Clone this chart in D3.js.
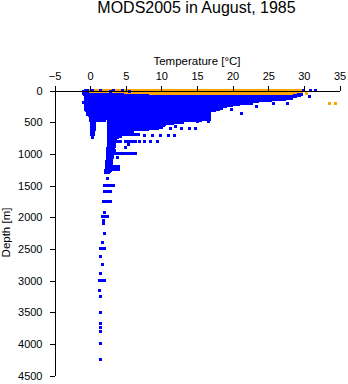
<!DOCTYPE html>
<html>
<head>
<meta charset="utf-8">
<script src="https://cdn.jsdelivr.net/npm/d3@7"></script>
<style>
  html, body { margin: 0; padding: 0; background: #fff; }
  svg { display: block; }
  text { font-family: "Liberation Sans", Arial, Helvetica, sans-serif; fill: #000; }
</style>
</head>
<body>
<svg id="chart" width="348" height="384"></svg>
<script>
// ---- data ----
const title = "MODS2005 in August, 1985";
const xLabel = "Temperature [°C]";
const yLabel = "Depth [m]";
const xTicks = [-5, 0, 5, 10, 15, 20, 25, 30, 35];
const yTicks = [0, 500, 1000, 1500, 2000, 2500, 3000, 3500, 4000, 4500];

// blue observations grouped by depth: [depth m, Tmin, Tmax]
const blueRows = [
  [0, -0.7, 29.7], [10, -0.8, 29.7], [20, -0.9, 29.7], [40, -1.0, 29.7], [60, -0.8, 29.6],
  [80, -0.6, 29.4], [100, -0.6, 28.8], [120, -0.6, 28.2], [140, -0.6, 27.3], [160, -0.6, 25.3],
  [180, -0.6, 23.5], [200, -0.6, 22.6], [220, -0.6, 20.8], [240, -0.6, 19.8], [260, -0.6, 19.0],
  [280, -0.6, 18.5], [300, -0.6, 18.0], [320, -0.5, 17.5], [340, -0.3, 16.8], [360, -0.3, 16.8],
  [380, -0.3, 16.8], [400, -0.1, 16.8], [420, 0.0, 16.8], [440, 0.0, 16.8],
  [460, 0.1, 0.7], [460, 2.6, 16.8], [480, 0.1, 0.7], [480, 1.2, 2.0], [480, 2.6, 15.5],
  [500, 0.15, 0.65], [500, 2.6, 13.0], [520, 0.15, 0.65], [520, 2.6, 11.5],
  [540, 0.15, 0.6], [540, 2.6, 10.5], [560, 0.15, 0.6], [560, 2.6, 10.3],
  [580, 0.15, 0.6], [580, 2.6, 10.0], [600, 0.15, 0.55], [600, 2.6, 9.5],
  [620, 0.15, 0.55], [620, 2.6, 8.0], [640, 0.2, 0.5], [640, 2.6, 6.0],
  [660, 0.2, 0.5], [660, 2.6, 5.3], [680, 0.2, 0.5], [680, 2.6, 4.8],
  [700, 0.25, 0.45], [700, 2.6, 6.8], [720, 0.3, 0.4], [720, 2.6, 4.2],
  [740, 0.35, 0.35], [740, 2.6, 3.8], [760, 2.6, 3.6], [780, 2.6, 3.5],
  [800, 2.6, 4.3], [800, 4.9, 6.3],
  [820, 2.6, 3.3], [840, 2.6, 3.4], [860, 2.6, 3.2], [880, 2.6, 3.4], [900, 2.6, 3.3],
  [920, 2.5, 3.2], [940, 2.5, 3.4], [960, 2.5, 3.1], [980, 2.5, 3.3], [1000, 2.5, 6.3],
  [1020, 2.4, 3.1], [1040, 2.4, 3.0], [1060, 2.4, 3.1], [1080, 2.4, 2.9], [1100, 2.4, 3.0],
  [1120, 2.3, 3.0], [1140, 2.3, 2.9], [1160, 2.3, 3.0], [1180, 2.3, 2.9],
  [1200, 2.3, 4.0], [1220, 2.3, 3.6], [1240, 2.3, 4.0],
  [1260, 2.2, 2.8], [1280, 2.2, 2.7], [1300, 2.2, 2.6],
  [1494, 2.05, 3.3], [1588, 1.95, 2.8], [1746, 1.9, 2.85], [1994, 1.7, 2.4],
  [2492, 1.4, 2.0], [3003, 1.3, 2.0]
];

// isolated blue observations: [T, depth m]
const bluePoints = [
  [-1.0, 190], [23.4, 248], [25.8, 205], [27.7, 205], [21.3, 363], [19.8, 300],
  [15.0, 495], [16.6, 495],
  [11.3, 595], [12.0, 565], [12.8, 595], [13.9, 595], [14.8, 595],
  [7.6, 706], [8.7, 706], [9.9, 706], [11.0, 706], [11.9, 706],
  [6.9, 800], [7.7, 800], [8.5, 800], [9.5, 800],
  [4.9, 899], [5.4, 847], [3.8, 1063], [3.1, 1230], [2.5, 1388],
  [1.95, 1924], [1.85, 2057], [1.85, 2098], [2.0, 2256], [1.67, 2397],
  [1.47, 2614], [1.67, 2744], [1.44, 2886], [1.33, 3150], [1.44, 3256],
  [1.44, 3502], [1.44, 3675], [1.44, 3744], [1.4, 3801], [1.47, 3991], [1.47, 4243],
  [30.9, 5], [31.7, 5], [30.8, 90]
];

// orange (surface) observations: [depth m, Tmin, Tmax]
const orangeRows = [
  [0, 0.0, 29.8], [10, 0.0, 29.6], [20, 0.2, 29.2], [30, 5.0, 28.8], [40, 8.5, 28.3], [50, 10.0, 27.0]
];
// isolated orange observations: [T, depth m]
const orangePoints = [[30.3, 47], [33.6, 205], [34.4, 205]];

// blue observations plotted over the orange band: [T, depth m]
const blueSurface = [[0.3, 5], [1.4, 0], [2.9, 15], [3.3, 0], [4.6, 5], [5.5, 10], [29.9, 0]];

// ---- drawing ----
const svg = d3.select("#chart");
const x = d3.scaleLinear().domain([-5, 35]).range([54.5, 339.5]);
const y = d3.scaleLinear().domain([0, 4500]).range([90.5, 375.5]);
const M = 3; // marker size px
const blue = "#0000ff", orange = "#ffa500";

const g = svg.append("g").attr("shape-rendering", "crispEdges");

function drawRows(data, color) {
  g.append("g").selectAll("rect").data(data).join("rect")
    .attr("x", d => x(d[1]) - M / 2)
    .attr("width", d => x(d[2]) - x(d[1]) + M)
    .attr("y", d => y(d[0]) - M / 2)
    .attr("height", M)
    .attr("fill", color);
}
function drawPoints(data, color) {
  g.append("g").selectAll("rect").data(data).join("rect")
    .attr("x", d => x(d[0]) - M / 2)
    .attr("width", M)
    .attr("y", d => y(d[1]) - M / 2)
    .attr("height", M)
    .attr("fill", color);
}
drawRows(blueRows, blue);
drawPoints(bluePoints, blue);
drawRows(orangeRows, orange);
drawPoints(orangePoints, orange);
drawPoints(blueSurface, blue);

// axes
const xAxis = d3.axisTop(x).tickValues(xTicks).tickSize(5).tickSizeOuter(0).tickPadding(6).tickFormat(d3.format("d"));
const gx = svg.append("g").attr("transform", "translate(0,90.5)").call(xAxis);
const yAxis = d3.axisLeft(y).tickValues(yTicks).tickSize(5).tickSizeOuter(0).tickPadding(7).tickFormat(d3.format("d"));
const gy = svg.append("g").attr("transform", "translate(54.5,0)").call(yAxis);
[gx, gy].forEach(a => {
  a.selectAll("path, line").attr("stroke", "#000").attr("shape-rendering", "crispEdges");
  a.selectAll("text").attr("font-size", 11).attr("font-family", "Liberation Sans, Arial, sans-serif").attr("fill", "#000");
});

svg.append("text").attr("x", 196.5).attr("y", 13).attr("text-anchor", "middle")
  .attr("font-size", 16).text(title);
svg.append("text").attr("x", 197).attr("y", 65).attr("text-anchor", "middle")
  .attr("font-size", 11.5).text(xLabel);
svg.append("text").attr("transform", "translate(10,232.5) rotate(-90)").attr("text-anchor", "middle")
  .attr("font-size", 11.5).text(yLabel);
</script>
</body>
</html>
